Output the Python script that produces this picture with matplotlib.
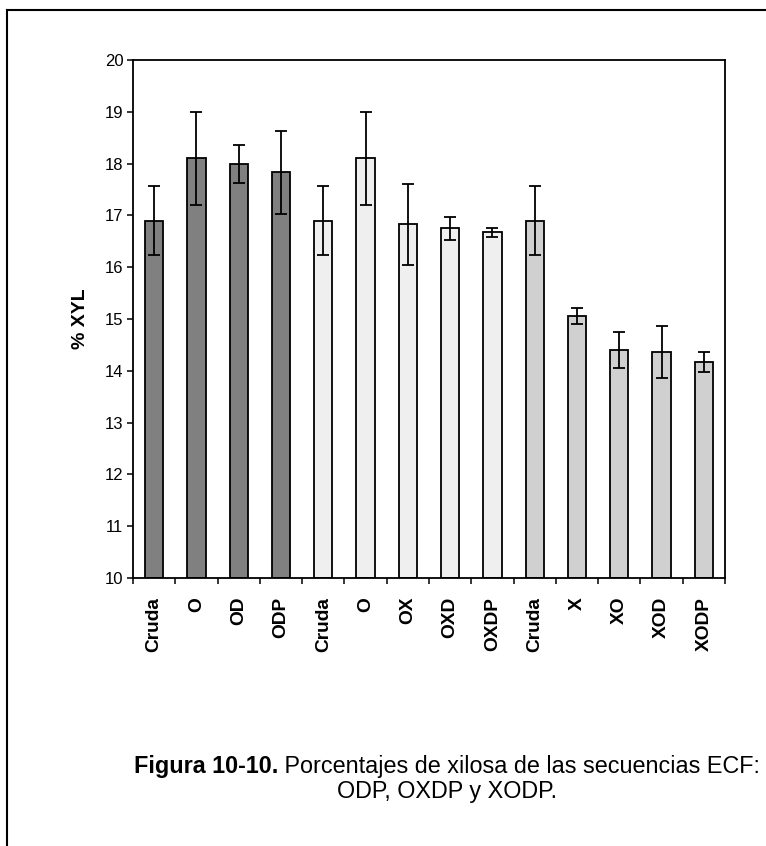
import matplotlib
matplotlib.use("Agg")
import matplotlib.pyplot as plt
from matplotlib.lines import Line2D
import numpy as np

plt.rcParams['font.family'] = ['Liberation Sans', 'DejaVu Sans']

# Xylose content per bleaching stage, three sequences (ODP, OXDP, XODP)
categories = ["Cruda", "O", "OD", "ODP",
              "Cruda", "O", "OX", "OXD", "OXDP",
              "Cruda", "X", "XO", "XOD", "XODP"]
values = [16.90, 18.10, 17.99, 17.83,
          16.90, 18.10, 16.83, 16.75, 16.67,
          16.90, 15.06, 14.40, 14.36, 14.17]
errors = [0.66, 0.89, 0.37, 0.80,
          0.66, 0.89, 0.78, 0.22, 0.09,
          0.66, 0.16, 0.35, 0.50, 0.19]
group_sizes = [4, 5, 5]
group_colors = ["#808080", "#efefef", "#d0d0d0"]

colors = []
for n, c in zip(group_sizes, group_colors):
    colors += [c] * n

fig = plt.figure(figsize=(7.66, 8.46), dpi=100)
ax = fig.add_axes([133 / 766, 1 - 578 / 846, (725 - 133) / 766, (578 - 60) / 846])

x = np.arange(len(categories)) + 0.5
ax.bar(x, [v - 10 for v in values], bottom=10, width=0.43, color=colors,
       edgecolor="black", linewidth=1.3, zorder=2)
ax.errorbar(x, values, yerr=errors, fmt="none", ecolor="black",
            elinewidth=1.3, capsize=4, capthick=1.3, zorder=3)

ax.set_xlim(0, len(categories))
ax.set_ylim(10, 20)
ax.set_yticks(np.arange(10, 21, 1))
ax.tick_params(axis="y", direction="out", length=4, width=1.1,
               labelsize=12, pad=3)

# Boundary ticks without labels, category labels at bar centres
ax.set_xticks(np.arange(0, len(categories) + 1))
ax.set_xticklabels([])
ax.tick_params(axis="x", which="major", direction="out", length=4, width=1.1)
ax.set_xticks(x, minor=True)
ax.set_xticklabels(categories, minor=True, rotation=90, fontsize=13.8,
                   fontweight="bold", va="top", ha="center")
ax.tick_params(axis="x", which="minor", length=0, pad=13.5)

for s in ax.spines.values():
    s.set_linewidth(1.3)
    s.set_color("black")

ax.set_ylabel("% XYL", fontsize=14, fontweight="bold", labelpad=11)

# Frame around the figure
fig.add_artist(Line2D([7 / 766, 7 / 766], [0, 1 - 10 / 846], color="black",
                      linewidth=1.5, transform=fig.transFigure))
fig.add_artist(Line2D([7 / 766, 1], [1 - 10 / 846, 1 - 10 / 846], color="black",
                      linewidth=1.5, transform=fig.transFigure))

# Caption: bold figure number followed by regular text, centred as one line
cap_size = 16.8
y1 = 1 - 766 / 846
y2 = 1 - 791 / 846
cx = 447 / 766
renderer = fig.canvas.get_renderer()
tb = fig.text(0, y1, "Figura 10-10.", ha="left", va="center",
              fontsize=cap_size, fontweight="bold")
tr = fig.text(0, y1, " Porcentajes de xilosa de las secuencias ECF:",
              ha="left", va="center", fontsize=cap_size)
wb = tb.get_window_extent(renderer).width / fig.bbox.width
wr = tr.get_window_extent(renderer).width / fig.bbox.width
x0 = cx - (wb + wr) / 2
tb.set_x(x0)
tr.set_x(x0 + wb)
fig.text(cx, y2, "ODP, OXDP y XODP.", ha="center", va="center",
         fontsize=cap_size)

fig.savefig("out.png", dpi=100)
